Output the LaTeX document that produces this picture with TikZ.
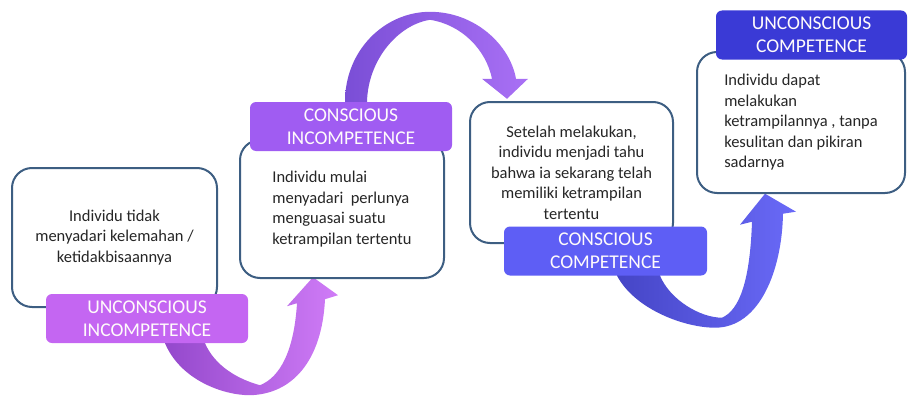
\documentclass[tikz,border=0pt]{standalone}
\usepackage{fontspec}
\setmainfont{Carlito}
\usepackage{xcolor}
\usepackage{tikz}
\usetikzlibrary{positioning, calc, backgrounds}

\definecolor{boxLine}{HTML}{3D5E82}
\definecolor{txtGray}{HTML}{262626}
\definecolor{uiColor}{HTML}{C466F2}
\definecolor{ciColor}{HTML}{A05CF2}
\definecolor{ccColor}{HTML}{5E5EF5}
\definecolor{ucColor}{HTML}{3A3AD6}
\definecolor{aOneDark}{HTML}{9448CC}
\definecolor{aOneLight}{HTML}{D07CF7}
\definecolor{aTwoDark}{HTML}{7A4ED6}
\definecolor{aTwoLight}{HTML}{A970F5}
\definecolor{aThreeDark}{HTML}{4545C6}
\definecolor{aThreeLight}{HTML}{6A6AF8}

\begin{document}
\begin{tikzpicture}[
        x=1pt, y=-1pt,
        font=\fontsize{16.5}{20.5}\selectfont,
        % kotak tahap dan judulnya
        stage/.style={rectangle, rounded corners=20pt, draw=boxLine, line width=2pt, fill=white, inner sep=0pt, text=txtGray},
        tag/.style={rectangle, rounded corners=6pt, inner sep=0pt, minimum height=49pt, text=white!94!pink, align=center, font=\fontsize{19.5}{23}\selectfont}
    ]
    \useasboundingbox (0,0) rectangle (909,396);

    % --- 1. KOTAK TAHAP ---
    \node[stage, minimum width=205pt, minimum height=139pt, align=center] (box1) at (114.5,237.5) {Individu tidak\\ menyadari kelemahan /\\ ketidakbisaannya};

    \node[stage, minimum width=204pt, minimum height=138pt, align=left] (box2) at (342,209) {Individu mulai\\ menyadari~ perlunya\\ menguasai suatu\\ ketrampilan tertentu};

    \node[stage, minimum width=203pt, minimum height=141pt, align=center] (box3) at (571.5,172.5) {Setelah melakukan,\\ individu menjadi tahu\\ bahwa ia sekarang telah\\ memiliki ketrampilan\\ tertentu};

    \node[stage, minimum width=208pt, minimum height=141pt, align=left] (box4) at (801,122.5) {Individu dapat\\ melakukan\\ ketrampilannya , tanpa\\ kesulitan dan pikiran\\ sadarnya};

    % --- 2. JUDUL TAHAP ---
    \node[tag, fill=uiColor, minimum width=202pt] (lab1) at ($(box1.south)+(32.5,10.5)$) {UNCONSCIOUS\\ INCOMPETENCE};
    \node[tag, fill=ciColor, minimum width=202pt] (lab2) at ($(box2.north)+(9,-12.5)$) {CONSCIOUS\\ INCOMPETENCE};
    \node[tag, fill=ccColor, minimum width=203pt] (lab3) at ($(box3.south)+(34,7)$) {CONSCIOUS\\ COMPETENCE};
    \node[tag, fill=ucColor, minimum width=191pt] (lab4) at ($(box4.north)+(10.5,-16)$) {UNCONSCIOUS\\ COMPETENCE};

    % --- 3. PANAH LENGKUNG ---
    \begin{scope}[on background layer]
        % lab1 -> box2
        \begin{scope}[shift={(lab1.south)}]
            \shade[left color=aOneDark, right color=aOneLight]
                (18,-8) -- (18,0) .. controls (33,36) and (75,52) .. (103,52)
                .. controls (145,51) and (175,18) .. (178,-44)
                -- (191,-48) -- (166,-66) -- (140,-37) -- (150,-40)
                .. controls (147,8) and (133,34) .. (113,42)
                .. controls (91,36) and (68,23) .. (58,0) -- (58,-8) -- cycle;
        \end{scope}
        % lab2 -> box3
        \begin{scope}[shift={(lab2.north)}]
            \shade[left color=aTwoDark, right color=aTwoLight]
                (-6,8) -- (-6,0) .. controls (-6,-52) and (34,-90) .. (79,-90)
                .. controls (124,-90) and (159,-57) .. (165,-23)
                -- (177,-23) -- (156,-3) -- (131,-23) -- (141,-23)
                .. controls (135,-52) and (111,-77) .. (79,-82)
                .. controls (47,-77) and (17,-42) .. (16,0) -- (16,8) -- cycle;
        \end{scope}
        % lab3 -> box4
        \begin{scope}[shift={(lab3.south)}]
            \shade[left color=aThreeDark, right color=aThreeLight]
                (11.5,-8) -- (11.5,0) .. controls (29.5,34) and (79.5,52) .. (109.5,52)
                .. controls (154.5,52) and (176.5,-6) .. (177.5,-62)
                -- (190.5,-64) -- (159.5,-82) -- (134.5,-51) -- (146.5,-54)
                .. controls (144.5,4) and (134.5,34) .. (116.5,42)
                .. controls (94.5,42) and (64.5,24) .. (54.5,0) -- (54.5,-8) -- cycle;
        \end{scope}
    \end{scope}

\end{tikzpicture}
\end{document}
